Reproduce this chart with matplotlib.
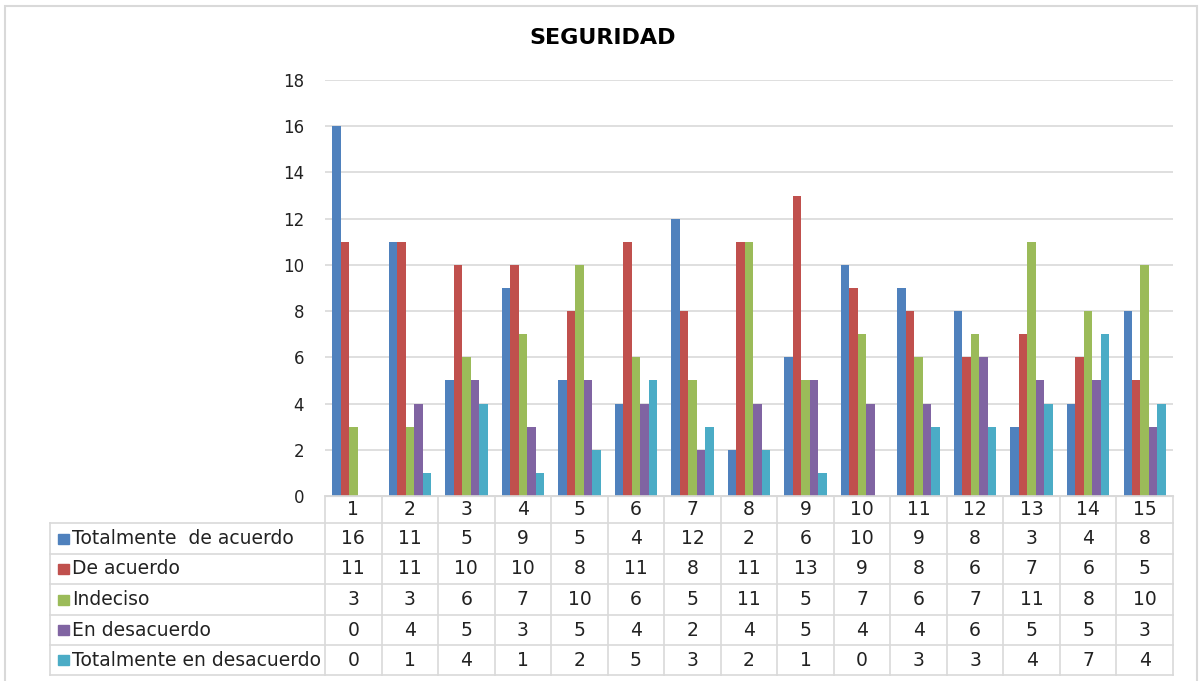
import matplotlib.pyplot as plt
import matplotlib.transforms as mtransforms
from matplotlib.lines import Line2D
from matplotlib.patches import Rectangle
import numpy as np

plt.rcParams['font.family'] = ['DejaVu Sans']

# --- data ---
categories = list(range(1, 16))
series_names = ['Totalmente  de acuerdo', 'De acuerdo', 'Indeciso',
                'En desacuerdo', 'Totalmente en desacuerdo']
totalmente_acuerdo = [16, 11, 5, 9, 5, 4, 12, 2, 6, 10, 9, 8, 3, 4, 8]
de_acuerdo = [11, 11, 10, 10, 8, 11, 8, 11, 13, 9, 8, 6, 7, 6, 5]
indeciso = [3, 3, 6, 7, 10, 6, 5, 11, 5, 7, 6, 7, 11, 8, 10]
en_desacuerdo = [0, 4, 5, 3, 5, 4, 2, 4, 5, 4, 4, 6, 5, 5, 3]
totalmente_desacuerdo = [0, 1, 4, 1, 2, 5, 3, 2, 1, 0, 3, 3, 4, 7, 4]
y_ticks = [0, 2, 4, 6, 8, 10, 12, 14, 16, 18]

series = [totalmente_acuerdo, de_acuerdo, indeciso, en_desacuerdo, totalmente_desacuerdo]
colors = ['#4F81BD', '#C0504D', '#9BBB59', '#8064A2', '#4BACC6']

W, H = 1200, 681
fig = plt.figure(figsize=(W / 100, H / 100), dpi=100)


def fy(py):
    return 1 - py / H


def fx(px):
    return px / W


# outer border
fig.add_artist(Rectangle((fx(5), fy(690)), fx(1197) - fx(5), fy(6) - fy(690),
                         transform=fig.transFigure, fill=False,
                         edgecolor='#d9d9d9', linewidth=1.5))

ax = fig.add_axes([fx(325), fy(496), fx(1173) - fx(325), fy(80) - fy(496)])
x = np.array(categories)
bw = 0.15
for j, (vals, c) in enumerate(zip(series, colors)):
    ax.bar(x + (j - 2) * bw, vals, width=bw, color=c, linewidth=0, zorder=3)

ax.set_xlim(0.5, 15.5)
ax.set_ylim(0, 18)
ax.set_yticks(y_ticks)
ax.set_xticks([])
ax.tick_params(axis='y', length=0, pad=15, labelsize=12, labelcolor='#222222')
ax.grid(axis='y', color='#d9d9d9', linewidth=1.2, zorder=0)
for s in ['left', 'right', 'top']:
    ax.spines[s].set_visible(False)
ax.spines['bottom'].set_color('#d9d9d9')

fig.text(fx(603), fy(38), 'SEGURIDAD', ha='center', va='center',
         fontsize=16, fontweight='bold')

# --- data table under the chart ---
tr = mtransforms.blended_transform_factory(ax.transData, fig.transFigure)
line_kw = dict(color='#d9d9d9', linewidth=1.2)
row_edges = [496, 523, 554, 584, 615, 645, 675]
x_left_px = 50

# horizontal lines
fig.add_artist(Line2D([0.5, 15.5], [fy(row_edges[0])] * 2, transform=tr, **line_kw))
for ry in row_edges[1:]:
    fig.add_artist(Line2D([fx(x_left_px), fx(1173)], [fy(ry)] * 2,
                          transform=fig.transFigure, **line_kw))
# vertical lines
for xb in np.arange(0.5, 16, 1.0):
    fig.add_artist(Line2D([xb, xb], [fy(row_edges[0]), fy(row_edges[-1])],
                          transform=tr, **line_kw))
fig.add_artist(Line2D([fx(x_left_px)] * 2, [fy(row_edges[1]), fy(row_edges[-1])],
                      transform=fig.transFigure, **line_kw))

tsize = 13.5
hy = (row_edges[0] + row_edges[1]) / 2
for c in categories:
    fig.text(c, fy(hy), str(c), transform=tr, ha='center', va='center',
             fontsize=tsize, color='#222222')
for r, (name, vals, col) in enumerate(zip(series_names, series, colors)):
    cy = (row_edges[r + 1] + row_edges[r + 2]) / 2
    fig.add_artist(Rectangle((fx(58), fy(cy + 5)), fx(11), fy(cy - 5) - fy(cy + 5),
                             transform=fig.transFigure, color=col))
    fig.text(fx(72), fy(cy), name, ha='left', va='center', fontsize=tsize,
             color='#222222')
    for c, v in zip(categories, vals):
        fig.text(c, fy(cy), str(v), transform=tr, ha='center', va='center',
                 fontsize=tsize, color='#222222')

fig.savefig('out.png', dpi=100)
